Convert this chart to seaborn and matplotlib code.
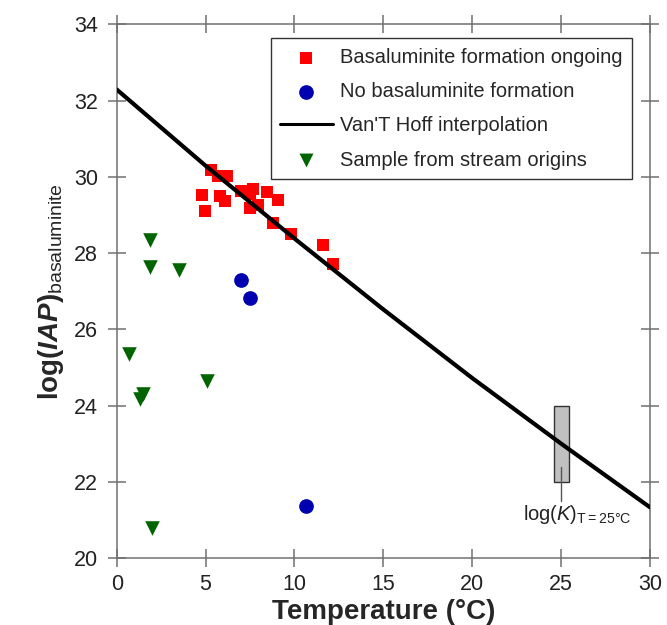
import numpy as np
import pandas as pd
import matplotlib
matplotlib.use("Agg")
import matplotlib.pyplot as plt
import seaborn as sns

# ---- data ----
ongoing_temp = [5.29, 5.70, 6.23, 4.80, 5.80, 6.08, 4.99, 6.98, 7.67, 7.48,
                7.48, 7.92, 8.48, 9.08, 8.80, 9.78, 11.58, 12.17]
ongoing_logiap = [30.17, 30.01, 30.01, 29.53, 29.49, 29.36, 29.10, 29.63, 29.67, 29.56,
                  29.19, 29.25, 29.60, 29.40, 28.80, 28.50, 28.20, 27.70]

none_temp = [6.98, 7.48, 10.62]
none_logiap = [27.28, 26.81, 21.36]

stream_temp = [1.86, 1.86, 3.49, 0.69, 5.08, 1.48, 1.33, 1.99]
stream_logiap = [28.33, 27.63, 27.55, 25.36, 24.64, 24.31, 24.16, 20.78]

vanthoff_temp = [0, 5, 10, 15, 20, 25, 30]
vanthoff_logk = [32.29, 30.29, 28.38, 26.52, 24.72, 23.00, 21.33]

logk25_temp = 25.0
logk25_low = 22.0
logk25_high = 24.0

x_ticks = [0, 5, 10, 15, 20, 25, 30]
y_ticks = [20, 22, 24, 26, 28, 30, 32, 34]

labels = ["Basaluminite formation ongoing", "No basaluminite formation",
          "Van'T Hoff interpolation", "Sample from stream origins"]

# ---- style ----
sns.set_style("ticks")
plt.rcParams['font.family'] = ['Liberation Sans', 'DejaVu Sans']
plt.rcParams['mathtext.fontset'] = 'custom'
plt.rcParams['mathtext.rm'] = 'Liberation Sans'
plt.rcParams['mathtext.it'] = 'Liberation Sans:italic'
plt.rcParams['mathtext.bf'] = 'Liberation Sans:bold'
plt.rcParams['mathtext.bfit'] = 'Liberation Sans:italic:bold'

spine_col = '#707070'

fig = plt.figure(figsize=(6.67, 6.25), dpi=100)
ax = fig.add_axes([0.175, 0.1072, 0.7995, 0.8539])

df_on = pd.DataFrame({"T": ongoing_temp, "L": ongoing_logiap})
df_no = pd.DataFrame({"T": none_temp, "L": none_logiap})
df_st = pd.DataFrame({"T": stream_temp, "L": stream_logiap})
df_vh = pd.DataFrame({"T": vanthoff_temp, "L": vanthoff_logk})

sns.scatterplot(data=df_on, x="T", y="L", marker="s", s=70, color="#ff0000",
                linewidth=0, ax=ax, label=labels[0], zorder=3)
sns.scatterplot(data=df_no, x="T", y="L", marker="o", s=112, color="#0000b0",
                linewidth=0, ax=ax, label=labels[1], zorder=3)
sns.lineplot(data=df_vh, x="T", y="L", color="black", linewidth=3.0, ax=ax,
             label=labels[2], zorder=4)
sns.scatterplot(data=df_st, x="T", y="L", marker="v", s=110, color="#006400",
                linewidth=0, ax=ax, label=labels[3], zorder=3)

# log(K) at 25 °C box
ax.bar([logk25_temp], [logk25_high - logk25_low], bottom=[logk25_low], width=0.85,
       color="#c0c0c0", edgecolor="#333333", linewidth=1.0, zorder=2)
ax.plot([logk25_temp, logk25_temp], [21.5, 22.4], color="#555555", linewidth=1.0, zorder=2)
ax.text(25.9, 21.0, r"log($\mathit{K}$)$_{\mathrm{T=25°C}}$", fontsize=14.5,
        ha="center", va="baseline", color="#222222")

ax.set_xlim(0, 30)
ax.set_ylim(20, 34)
ax.set_xticks(x_ticks)
ax.set_yticks(y_ticks)

for sp in ax.spines.values():
    sp.set_visible(True)
    sp.set_color(spine_col)
    sp.set_linewidth(1.1)

ax.tick_params(axis='both', which='major', direction='inout', length=13, width=1.1,
               color=spine_col, labelsize=15.5, labelcolor='#222222',
               top=True, right=True, labeltop=False, labelright=False)
ax.tick_params(axis='x', pad=5)
ax.tick_params(axis='y', pad=7)

ax.set_xlabel("Temperature (°C)", fontsize=20, fontweight='bold', labelpad=3)
ax.set_ylabel(r"log($\mathbfit{IAP}$)$_{\mathrm{basaluminite}}$", fontsize=20,
              fontweight='bold', labelpad=6)

leg = ax.legend(loc='upper right', bbox_to_anchor=(0.966, 0.974), borderaxespad=0,
                fontsize=14.5, frameon=True, fancybox=False, framealpha=1,
                edgecolor='#333333', handlelength=2.6, handletextpad=0.35,
                labelspacing=0.76, borderpad=0.48)
leg.get_frame().set_linewidth(1.0)
handle_sizes = [64, 112, None, 100]
for h, sz in zip(leg.legend_handles, handle_sizes):
    if sz is None:
        h.set_linewidth(2.2)
    else:
        h.set_sizes([sz])

fig.savefig("out.png", dpi=100)
